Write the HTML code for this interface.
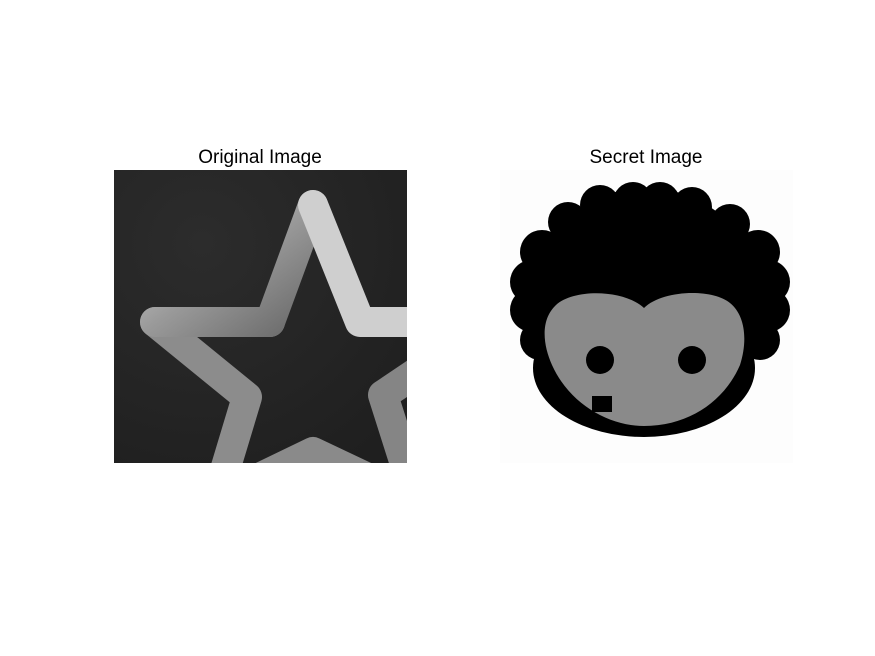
<!DOCTYPE html>
<html><head><meta charset="utf-8"><style>
html,body{margin:0;padding:0;background:#fff}
svg{display:block}
text{font-family:"Liberation Sans",Arial,sans-serif}
</style></head><body>
<svg width="875" height="656" viewBox="0 0 875 656">
<defs>
<radialGradient id="bg" cx="0.3" cy="0.25" r="0.9">
<stop offset="0" stop-color="#2c2c2c"/><stop offset="1" stop-color="#1f1f1f"/>
</radialGradient>
<linearGradient id="sg" x1="0" y1="0" x2="1" y2="1">
<stop offset="0" stop-color="#d8d8d8"/><stop offset="0.5" stop-color="#9a9a9a"/><stop offset="1" stop-color="#6a6a6a"/>
</linearGradient>
<clipPath id="c1"><rect x="114" y="170" width="293" height="293"/></clipPath>
</defs>
<text x="260" y="163" font-size="19" text-anchor="middle" fill="#000">Original Image</text>
<text x="646" y="163" font-size="19" text-anchor="middle" fill="#000">Secret Image</text>
<g clip-path="url(#c1)">
<rect x="114" y="170" width="293" height="293" fill="url(#bg)"/>
<polyline points="270,322 155,322 247,397 222,480" fill="none" stroke="#8c8c8c" stroke-width="30" stroke-linejoin="round" stroke-linecap="round"/>
<polyline points="255,480 313,452 372,480" fill="none" stroke="#8a8a8a" stroke-width="30" stroke-linejoin="round"/>
<polyline points="450,350 383,395 410,480" fill="none" stroke="#858585" stroke-width="30" stroke-linejoin="round"/>
<polyline points="155,322 270,322 313,205" fill="none" stroke="url(#sg)" stroke-width="30" stroke-linejoin="round" stroke-linecap="round"/>
<polyline points="313,205 360,322 450,322" fill="none" stroke="#cfcfcf" stroke-width="30" stroke-linejoin="round" stroke-linecap="round"/>
</g>
<g>
<rect x="500" y="170" width="293" height="293" fill="#fdfdfd"/>
<ellipse cx="646" cy="300" rx="115" ry="112" fill="#000"/>
<g fill="#000">
<circle cx="600" cy="205" r="20"/><circle cx="633" cy="202" r="20"/><circle cx="660" cy="202" r="20"/><circle cx="692" cy="207" r="20"/>
<circle cx="568" cy="222" r="20"/><circle cx="730" cy="224" r="20"/>
<circle cx="542" cy="252" r="22"/><circle cx="532" cy="282" r="22"/><circle cx="532" cy="310" r="22"/><circle cx="540" cy="340" r="20"/>
<circle cx="758" cy="252" r="22"/><circle cx="768" cy="282" r="22"/><circle cx="768" cy="310" r="22"/><circle cx="760" cy="340" r="20"/>
</g>
<ellipse cx="644" cy="368" rx="111" ry="69" fill="#000"/>
<path d="M644,308 C625,290 575,288 556,305 C540,320 543,345 552,365 C570,405 610,426 644,426 C690,426 725,400 740,365 C748,340 745,315 730,303 C712,288 662,290 644,308 Z" fill="#8a8a8a"/>
<circle cx="600" cy="360" r="14" fill="#000"/>
<circle cx="692" cy="360" r="14" fill="#000"/>
<rect x="592" y="396" width="20" height="16" fill="#000"/>
</g>
</svg>
</body></html>
